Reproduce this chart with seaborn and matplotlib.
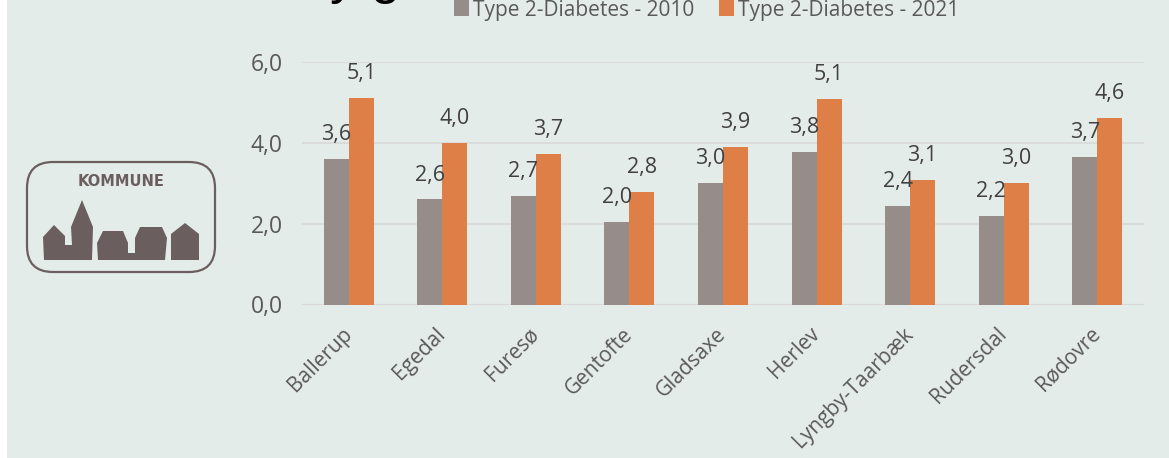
#!/usr/bin/env python3
"""Type 2 diabetes per municipality, 2010 vs 2021."""

import matplotlib
matplotlib.use("Agg")
import matplotlib.pyplot as plt
from matplotlib.patches import FancyBboxPatch, Polygon
import pandas as pd
import seaborn as sns

municipalities = ["Ballerup", "Egedal", "Furesø", "Gentofte", "Gladsaxe",
                  "Herlev", "Lyngby-Taarbæk", "Rudersdal", "Rødovre"]
values_2010 = [3.6, 2.6, 2.69, 2.04, 3.0, 3.78, 2.44, 2.2, 3.66]
values_2021 = [5.12, 4.0, 3.72, 2.79, 3.9, 5.09, 3.09, 3.0, 4.62]
series_names = ["Type 2-Diabetes - 2010", "Type 2-Diabetes - 2021"]
yticks = [0, 2, 4, 6]

W, H = 1169, 458
BG = "#e4ecE9"
TEXT = "#595959"
LOGO = "#6b5e5e"
COLORS = ["#968c8a", "#de7f47"]

plt.rcParams["font.family"] = ["Open Sans", "DejaVu Sans"]

df = pd.DataFrame({
    "kommune": municipalities * 2,
    "value": values_2010 + values_2021,
    "series": [series_names[0]] * 9 + [series_names[1]] * 9,
})

fig = plt.figure(figsize=(W / 100, H / 100), dpi=100, facecolor="white")

# full-figure layer in pixel coordinates for the panel, title and logo
bg = fig.add_axes([0, 0, 1, 1], zorder=0)
bg.set_xlim(0, W)
bg.set_ylim(H, 0)
bg.axis("off")
bg.add_patch(plt.Rectangle((7, 0), W - 7, H, color=BG, lw=0))

# cut-off title, only the descenders are left in the picture
bg.text(365, -7, "y g", fontsize=38, color="black", ha="center", va="baseline",
        family="Liberation Sans", clip_on=True)

# logo
bg.add_patch(FancyBboxPatch((40, 175), 162, 84, boxstyle="round,pad=13,rounding_size=26",
                            fc="none", ec=LOGO, lw=1.6))
bg.text(121, 181, "KOMMUNE", fontsize=10.5, fontweight="bold", color=LOGO,
        ha="center", va="center", family="DejaVu Sans")
houses = [
    [(43, 237), (54, 225), (65, 236), (65, 245), (72, 245), (71, 227),
     (82, 200), (93, 227), (92, 260), (44, 260)],
    [(98, 260), (97, 243), (103, 231), (123, 231), (128, 243), (128, 253),
     (135, 253), (135, 238), (140, 227), (162, 227), (167, 238), (165, 260)],
    [(171, 260), (171, 234), (185, 223), (199, 234), (199, 260)],
]
for pts in houses:
    bg.add_patch(Polygon(pts, closed=True, fc=LOGO, ec="none"))

# chart axes
ax = fig.add_axes([302 / W, 1 - 304.5 / H, (1144 - 302) / W, (304.5 - 62) / H], zorder=1)
ax.patch.set_alpha(0)
sns.barplot(data=df, x="kommune", y="value", hue="series", palette=COLORS,
            width=0.535, gap=0, saturation=1, ax=ax, legend=False, zorder=3)

ax.set_xlim(-0.5, 8.5)
ax.set_ylim(0, 6)
ax.set_yticks(yticks)
ax.set_yticklabels([f"{v:.1f}".replace(".", ",") for v in yticks], fontsize=16.5, color=TEXT)
ax.set_xlabel("")
ax.set_ylabel("")
ax.set_xticks(range(len(municipalities)))
# va center so the labels end on the bar centre, not to the right of it
ax.set_xticklabels(municipalities, fontsize=15, color=TEXT, rotation=45,
                   ha="right", va="center", rotation_mode="anchor")
ax.tick_params(axis="both", length=0)
ax.tick_params(axis="x", pad=19)
ax.tick_params(axis="y", pad=14)
ax.grid(axis="y", color="#d9d9d9", lw=1.2, zorder=0)
ax.set_axisbelow(True)
sns.despine(ax=ax, left=True, bottom=True)
ax.axhline(0, color="#d9d9d9", lw=1.6, zorder=2)
for cont in ax.containers:
    ax.bar_label(cont, labels=[f"{b.get_height():.1f}".replace(".", ",") for b in cont],
                 padding=10, fontsize=15.5, color="#404040", clip_on=False)

# legend drawn by hand to sit on the top edge
for x, name, color in zip([454, 719], series_names, COLORS):
    bg.add_patch(plt.Rectangle((x, 0), 15, 16, color=color, lw=0))
    bg.text(x + 19, 16, name, fontsize=15, color=TEXT, va="baseline", ha="left")

plt.savefig("out.png", dpi=100, facecolor=fig.get_facecolor())
plt.close()
